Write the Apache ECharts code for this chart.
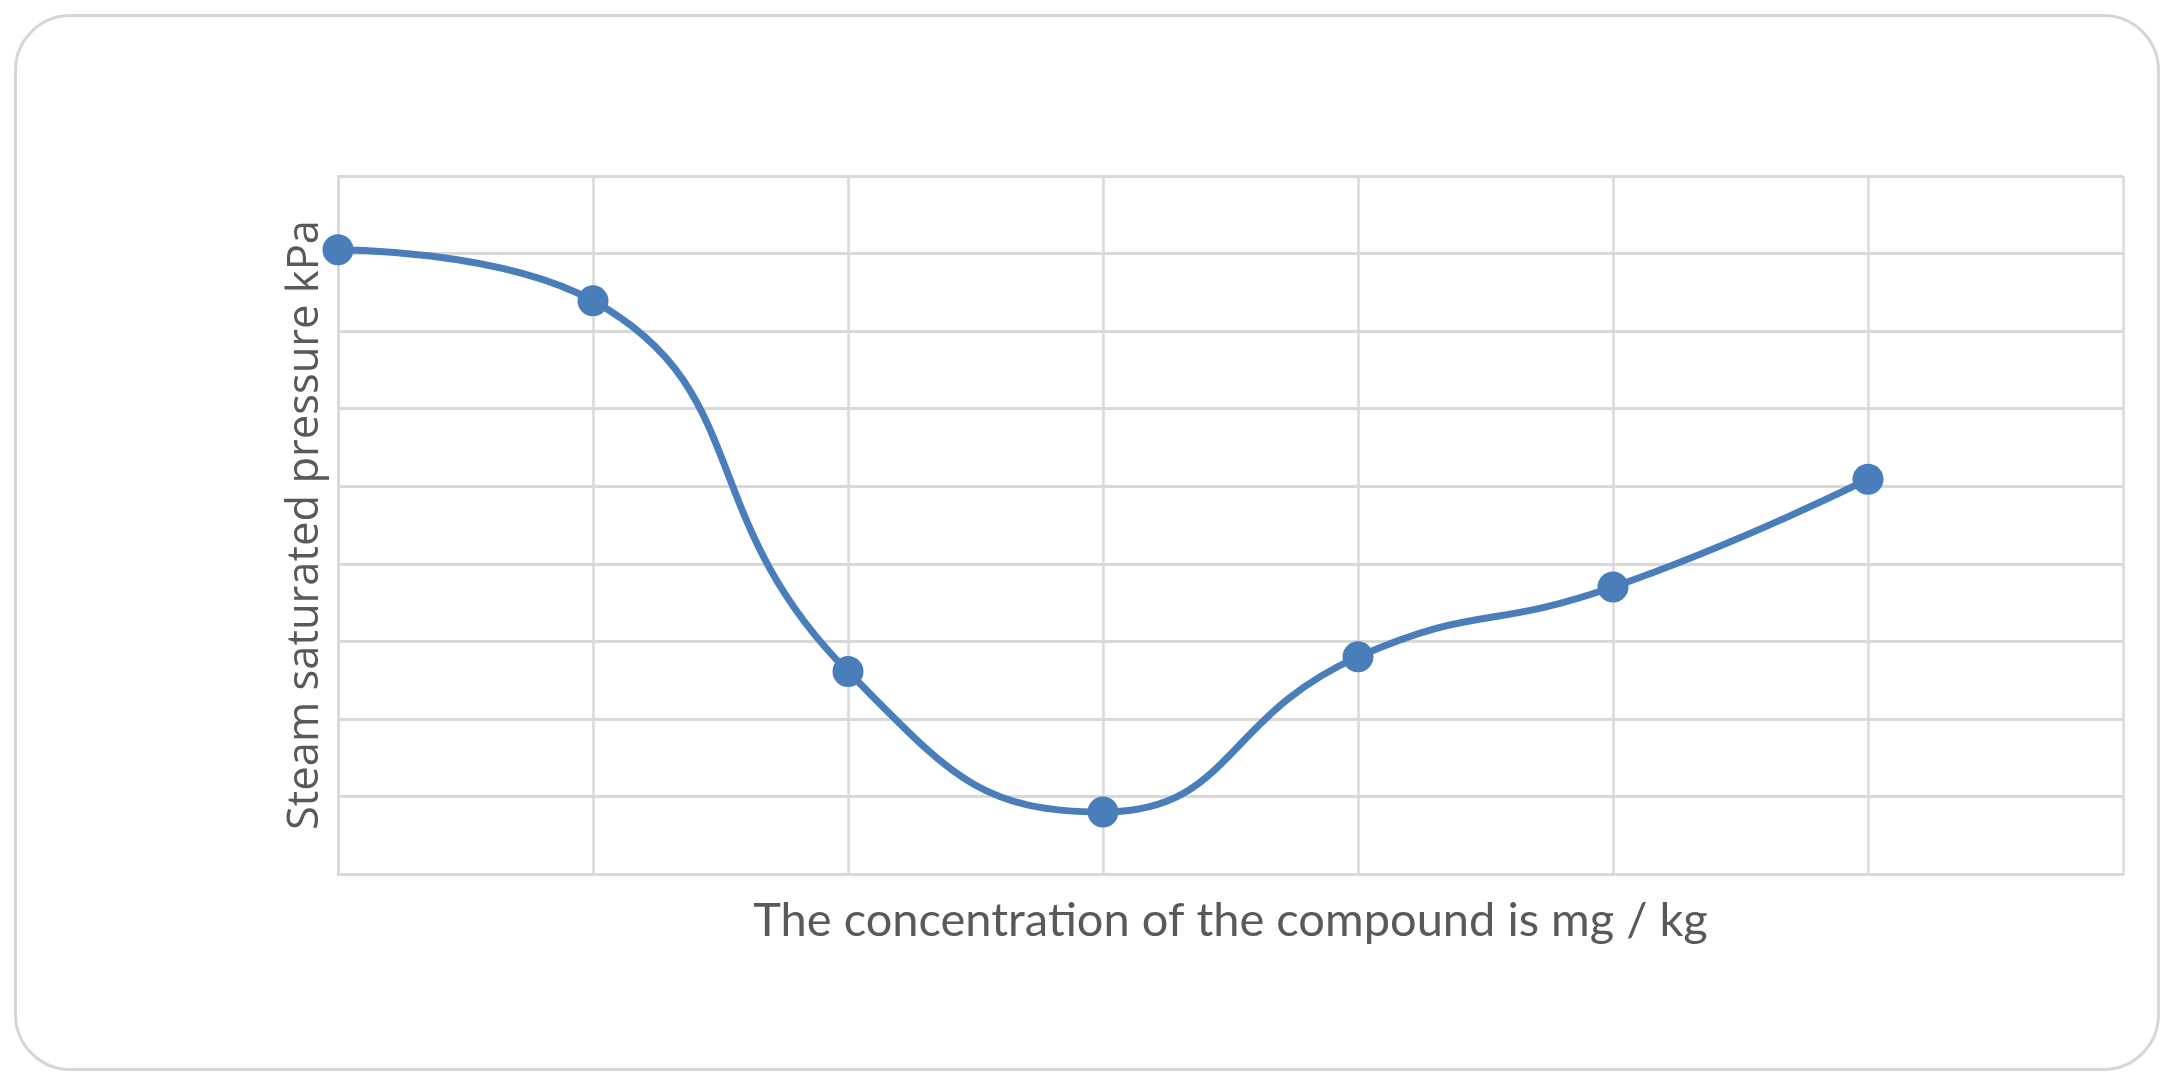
<!DOCTYPE html>
<html>
<head>
<meta charset="utf-8">
<script src="https://cdn.jsdelivr.net/npm/echarts@6/dist/echarts.min.js"></script>
<style>
  html, body { margin: 0; padding: 0; background: #ffffff; }
  #chart { width: 2171px; height: 1075px; }
</style>
</head>
<body>
<div id="chart"></div>
<script>
// Concentration steps (no tick labels shown on the axis)
const concentrationSteps = [0, 1, 2, 3, 4, 5, 6];
// Steam saturated pressure readings, kPa (axis units)
const pressureValues = [8.05, 7.39, 2.61, 0.80, 2.80, 3.70, 5.09];

const xTitle = 'The concentration of the compound is mg / kg';
const yTitle = 'Steam saturated pressure kPa';

const gridColor = '#d9d9d9';
const lineColor = '#4a7ebb';

const chart = echarts.init(document.getElementById('chart'), null, { renderer: 'canvas' });

chart.setOption({
  backgroundColor: '#ffffff',
  animation: false,
  graphic: [{
    type: 'rect',
    left: 14, top: 14,
    shape: { width: 2143, height: 1054, r: 55 },
    style: { fill: '#ffffff', stroke: '#d6d6d6', lineWidth: 3 },
    z: -10
  }],
  grid: { left: 338, top: 176, width: 1785, height: 698, containLabel: false },
  xAxis: {
    type: 'value',
    min: 0, max: 7, interval: 1,
    name: xTitle,
    nameLocation: 'middle',
    nameGap: 23,
    nameTextStyle: { fontFamily: 'Lato, sans-serif', fontSize: 47, color: '#595959' },
    axisLine: { show: true, lineStyle: { color: gridColor, width: 3 } },
    axisTick: { show: false },
    axisLabel: { show: false },
    splitLine: { show: true, lineStyle: { color: gridColor, width: 2.5 } }
  },
  yAxis: {
    type: 'value',
    min: 0, max: 9, interval: 1,
    name: yTitle,
    nameLocation: 'middle',
    nameGap: 10,
    nameRotate: 90,
    nameTextStyle: { fontFamily: '"Open Sans", sans-serif', fontSize: 43.5, color: '#595959' },
    axisLine: { show: true, lineStyle: { color: gridColor, width: 2.5 } },
    axisTick: { show: false },
    axisLabel: { show: false },
    splitLine: { show: true, lineStyle: { color: gridColor, width: 3 } }
  },
  series: [{
    type: 'line',
    data: concentrationSteps.map((x, i) => [x, pressureValues[i]]),
    smooth: 0.5,
    symbol: 'circle',
    symbolSize: 31,
    lineStyle: { color: lineColor, width: 7 },
    itemStyle: { color: lineColor }
  }]
});
</script>
</body>
</html>
